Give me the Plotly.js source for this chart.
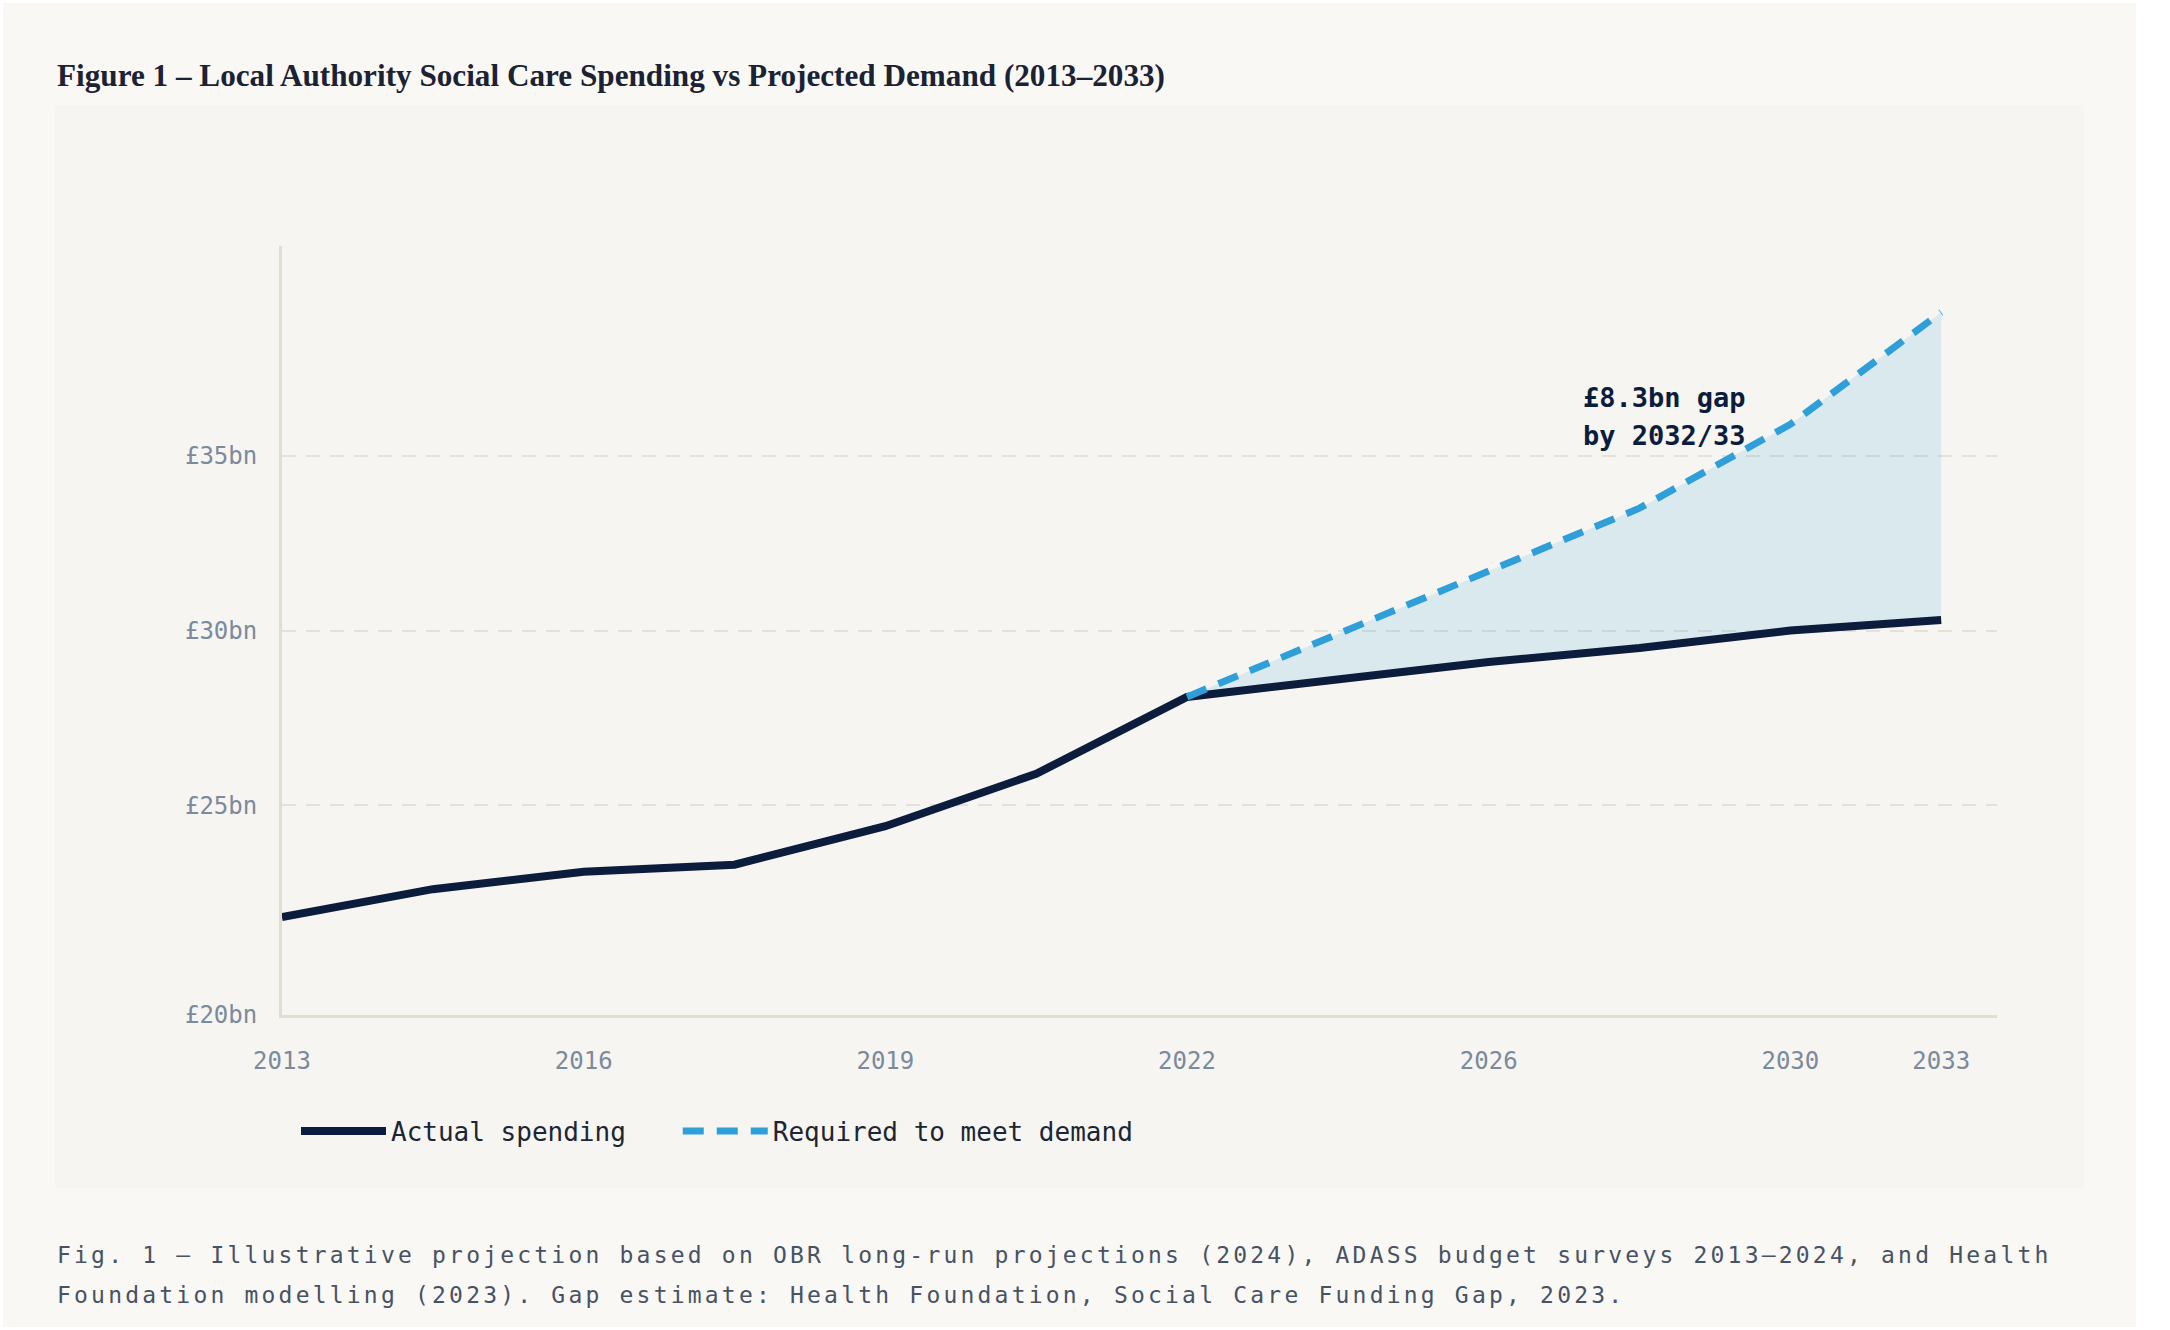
<!DOCTYPE html>
<html>
<head>
<meta charset="utf-8">
<script src="https://cdn.plot.ly/plotly-3.0.1.min.js"></script>
<style>
  html, body { margin: 0; padding: 0; background: #ffffff; }
  #chart { width: 2170px; height: 1330px; }
  /* spaced-out source note */
  g.annotation[data-index="3"] text,
  g.annotation[data-index="4"] text { letter-spacing: 3.2px; }
</style>
</head>
<body>
<div id="chart"></div>
<script>
// Period labels for each point (evenly spaced on the chart)
const periods = ['2013', '2014/15', '2016', '2017/18', '2019', '2020/21',
                 '2022', '2024', '2026', '2028', '2030', '2032/33'];

// Actual local authority social care spending, £bn
const actualSpending = [21.8, 22.6, 23.1, 23.3, 24.4, 25.9,
                        28.1, 28.6, 29.1, 29.5, 30.0, 30.3];

// Spending required to meet projected demand, £bn (from 2022 onwards)
const requiredPeriods = ['2022', '2024', '2026', '2028', '2030', '2032/33'];
const requiredSpending = [28.1, 29.9, 31.7, 33.5, 35.9, 39.1];

// Axis ticks
const xTickPeriods = ['2013', '2016', '2019', '2022', '2026', '2030', '2032/33'];
const xTickText = ['2013', '2016', '2019', '2022', '2026', '2030', '2033'];
const yTickVals = [19, 25, 30, 35];
const yTickText = ['£20bn', '£25bn', '£30bn', '£35bn'];

const idx = p => periods.indexOf(p);
const xAll = periods.map(idx);
const xReq = requiredPeriods.map(idx);
const actualTail = requiredPeriods.map(p => actualSpending[idx(p)]);

const NAVY = '#0b1c3d';
const BLUE = '#2e9fd9';
const MONO = 'DejaVu Sans Mono, monospace';
const NBSP = '\u00a0';

// Plot-area geometry in pixels, used to place page furniture in paper units
const W = 2170, H = 1330;
const L = 282, R = 1997, T = 246, B = 1015;
const px = x => (x - L) / (R - L);
const py = y => (B - y) / (B - T);

const traces = [
  { // lower edge of the gap band
    x: xReq, y: actualTail, mode: 'lines', line: { width: 0, color: NAVY },
    showlegend: false, hoverinfo: 'skip'
  },
  { // upper edge of the gap band, filled down to actual spending
    x: xReq, y: requiredSpending, mode: 'lines', line: { width: 0, color: BLUE },
    fill: 'tonexty', fillcolor: 'rgba(46,160,218,0.14)',
    showlegend: false, hoverinfo: 'skip'
  },
  {
    // trailing non-breaking spaces widen the gap before the next legend entry
    name: 'Actual spending' + NBSP.repeat(3), x: xAll, y: actualSpending, mode: 'lines',
    line: { color: NAVY, width: 8 }
  },
  {
    name: 'Required to meet demand', x: xReq, y: requiredSpending, mode: 'lines',
    line: { color: BLUE, width: 7, dash: '21px,13px' }
  }
];

const layout = {
  width: W, height: H,
  margin: { l: L, r: W - R, t: T, b: H - B, pad: 0 },
  paper_bgcolor: '#ffffff',
  plot_bgcolor: 'rgba(0,0,0,0)',
  font: { family: MONO, color: '#1c2533' },
  showlegend: true,
  legend: {
    orientation: 'h', x: px(296), xanchor: 'left', y: py(1131), yanchor: 'middle',
    font: { family: MONO, size: 26, color: '#1c2533' },
    itemwidth: 85, bgcolor: 'rgba(0,0,0,0)', traceorder: 'normal'
  },
  xaxis: {
    range: [0, 11.37], showgrid: false, zeroline: false,
    showline: true, linecolor: '#e2ddd0', linewidth: 3,
    tickvals: xTickPeriods.map(idx), ticktext: xTickText,
    ticks: '', ticklabelstandoff: 22,
    tickfont: { family: MONO, size: 24, color: '#7b8a9c' }
  },
  yaxis: {
    range: [19, 41], zeroline: false,
    showline: true, linecolor: '#e2ddd0', linewidth: 3,
    showgrid: true, gridcolor: '#e4e1d7', gridwidth: 2, griddash: '14px,10px',
    tickvals: yTickVals, ticktext: yTickText,
    ticks: '', ticklabelstandoff: 17,
    tickfont: { family: MONO, size: 24, color: '#7b8a9c' }
  },
  shapes: [
    { type: 'rect', xref: 'paper', yref: 'paper', layer: 'below',
      x0: px(3), x1: px(2136), y0: py(1327), y1: py(3),
      fillcolor: '#f9f8f5', line: { width: 0 } },
    { type: 'rect', xref: 'paper', yref: 'paper', layer: 'below',
      x0: px(55), x1: px(2084), y0: py(1188), y1: py(105),
      fillcolor: '#f6f5f1', line: { width: 0 } }
  ],
  annotations: [
    { xref: 'x', yref: 'y', x: 8.61, y: 36.68, xanchor: 'left', yanchor: 'middle',
      text: '<b>£8.3bn gap</b>', showarrow: false, align: 'left',
      font: { family: MONO, size: 27, color: NAVY } },
    { xref: 'x', yref: 'y', x: 8.61, y: 35.57, xanchor: 'left', yanchor: 'middle',
      text: '<b>by 2032/33</b>', showarrow: false, align: 'left',
      font: { family: MONO, size: 27, color: NAVY } },
    { xref: 'paper', yref: 'paper', x: px(55), y: py(76), xanchor: 'left', yanchor: 'middle',
      text: '<b>Figure 1 – Local Authority Social Care Spending vs Projected Demand (2013–2033)</b>',
      showarrow: false, align: 'left',
      font: { family: 'Liberation Serif, Times New Roman, serif', size: 31.2, color: '#1a2233' } },
    { xref: 'paper', yref: 'paper', x: px(55), y: py(1255), xanchor: 'left', yanchor: 'middle',
      text: 'Fig. 1 — Illustrative projection based on OBR long-run projections (2024), ADASS budget surveys 2013–2024, and Health',
      showarrow: false, align: 'left', font: { family: MONO, size: 23, color: '#475263' } },
    { xref: 'paper', yref: 'paper', x: px(55), y: py(1295), xanchor: 'left', yanchor: 'middle',
      text: 'Foundation modelling (2023). Gap estimate: Health Foundation, Social Care Funding Gap, 2023.',
      showarrow: false, align: 'left', font: { family: MONO, size: 23, color: '#475263' } }
  ]
};

Plotly.newPlot('chart', traces, layout, { displayModeBar: false, staticPlot: true });
</script>
</body>
</html>
